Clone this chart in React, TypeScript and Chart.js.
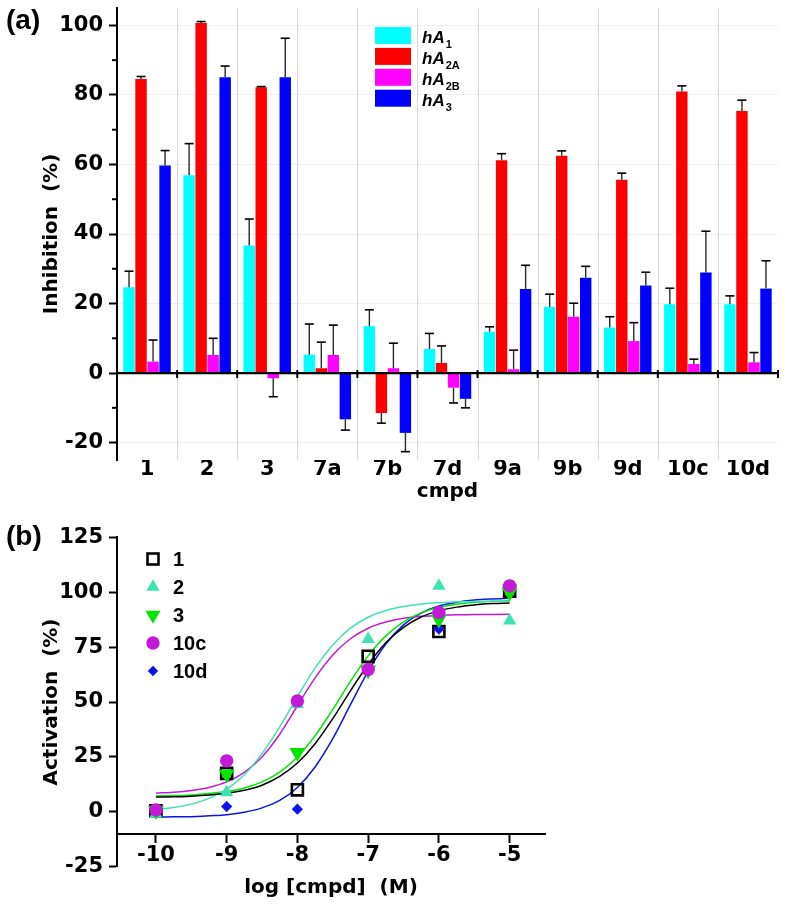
import React, { useEffect, useRef } from 'react';
import { Chart, registerables } from 'chart.js';

Chart.register(...registerables);

// ---------- Panel (a): inhibition bar chart ----------
const compounds = ['1', '2', '3', '7a', '7b', '7d', '9a', '9b', '9d', '10c', '10d'];
const hA1 = [24.7, 56.9, 36.7, 5.3, 13.5, 6.9, 11.9, 19.0, 13.1, 19.8, 19.8];
const hA2A = [84.6, 100.7, 82.2, 1.4, -11.5, 2.9, 61.2, 62.5, 55.6, 81.0, 75.4];
const hA2B = [3.3, 5.2, -1.5, 5.2, 1.4, -4.2, 1.1, 16.2, 9.2, 2.6, 3.1];
const hA3 = [59.7, 85.1, 85.1, -13.3, -17.2, -7.4, 24.2, 27.4, 25.2, 28.9, 24.3];
const hA1Sd = [4.6, 9.1, 7.6, 8.8, 4.7, 4.5, 1.4, 3.7, 3.1, 4.6, 2.4];
const hA2ASd = [0.7, 0.4, 0.2, 7.5, 2.9, 4.9, 1.9, 1.4, 1.9, 1.6, 3.1];
const hA2BSd = [6.2, 4.8, 5.3, 8.6, 7.2, 4.4, 5.5, 3.9, 5.3, 1.4, 2.8];
const hA3Sd = [4.3, 3.2, 11.2, 3.1, 5.4, 2.6, 6.8, 3.3, 3.8, 11.9, 8.0];
const receptorSubs = ['1', '2A', '2B', '3'];
const barColors = ['#00ffff', '#ff0000', '#ff00ff', '#0000ff'];
const yTicksA = [-20, 0, 20, 40, 60, 80, 100];
const yMinorA = [-10, 10, 30, 50, 70, 90];

// ---------- Panel (b): activation dose-response ----------
const logConc = [-10, -9, -8, -7, -6, -5];
const act1 = [0.5, 17.5, 10.0, 70.8, 82.1, 100.5];
const act2 = [-1.0, 8.8, 49.0, 78.6, 102.9, 87.0];
const act3 = [0.5, 17.2, 27.0, 64.5, 87.7, 99.9];
const act10c = [0.8, 23.2, 50.5, 64.8, 90.8, 102.9];
const act10d = [0.0, 2.4, 1.2, 65.7, 83.2, 101.5];
const fitX = [-10, -9.75, -9.5, -9.25, -9, -8.75, -8.5, -8.25, -8, -7.75, -7.5, -7.25, -7, -6.75, -6.5, -6.25, -6, -5.75, -5.5, -5.25, -5];
const fit1 = [6.7, 6.8, 7.1, 7.6, 8.4, 9.8, 12.1, 16.1, 22.2, 31.0, 42.4, 55.1, 67.1, 77.0, 84.0, 88.7, 91.5, 93.2, 94.2, 94.8, 95.1];
const fit2 = [1.1, 2.0, 3.5, 6.1, 10.3, 16.9, 26.5, 38.7, 52.4, 65.4, 76.0, 83.6, 88.6, 91.7, 93.5, 94.6, 95.2, 95.6, 95.8, 95.9, 95.9];
const fit3 = [7.2, 7.4, 7.7, 8.3, 9.2, 10.8, 13.6, 18.1, 25.0, 34.6, 46.6, 59.4, 71.0, 80.1, 86.5, 90.6, 93.1, 94.5, 95.4, 95.9, 96.1];
const fit10c = [8.5, 8.9, 9.7, 11.1, 13.6, 18.0, 25.0, 35.3, 48.3, 61.0, 71.4, 78.8, 83.6, 86.4, 88.1, 89.0, 89.4, 89.7, 89.8, 89.9, 90.0];
const fit10d = [-2.4, -2.3, -2.2, -1.8, -1.3, -0.2, 1.8, 5.2, 11.1, 20.4, 33.3, 48.8, 64.0, 76.4, 85.1, 90.5, 93.7, 95.4, 96.4, 96.9, 97.2];
const seriesNamesB = ['1', '2', '3', '10c', '10d'];
const colorsB = ['#000000', '#3fe3b1', '#00e600', '#c21ad6', '#0a14ea'];
const xTicksB = [-10, -9, -8, -7, -6, -5];
const yTicksB = [-25, 0, 25, 50, 75, 100, 125];

const TICK_FONT = { family: '"DejaVu Sans", sans-serif', size: 21, weight: 'bold' as const, lineHeight: 1 };
const TITLE_FONT = { family: '"DejaVu Sans", sans-serif', size: 20, weight: 'bold' as const, lineHeight: 1.2 };

function toXY(xs: number[], ys: number[]) {
  return xs.map((x, i) => ({ x, y: ys[i] }));
}

function marker(ctx: CanvasRenderingContext2D, shape: string, x: number, y: number, color: string) {
  ctx.save();
  ctx.fillStyle = color;
  ctx.strokeStyle = color;
  ctx.beginPath();
  if (shape === 'square') {
    ctx.lineWidth = 2.6;
    ctx.strokeRect(x - 5.5, y - 5.5, 11, 11);
  } else if (shape === 'up') {
    const r = 7.7;
    ctx.moveTo(x, y - r);
    ctx.lineTo(x + r * 0.866, y + r * 0.5);
    ctx.lineTo(x - r * 0.866, y + r * 0.5);
    ctx.closePath();
    ctx.fill();
  } else if (shape === 'down') {
    const r = 8.7;
    ctx.moveTo(x, y + r);
    ctx.lineTo(x + r * 0.866, y - r * 0.5);
    ctx.lineTo(x - r * 0.866, y - r * 0.5);
    ctx.closePath();
    ctx.fill();
  } else if (shape === 'circle') {
    ctx.arc(x, y, 6.7, 0, Math.PI * 2);
    ctx.fill();
  } else {
    const r = 5.2;
    ctx.moveTo(x - r, y);
    ctx.lineTo(x, y - r);
    ctx.lineTo(x + r, y);
    ctx.lineTo(x, y + r);
    ctx.closePath();
    ctx.fill();
  }
  ctx.restore();
}

export default function App() {
  const refA = useRef<HTMLCanvasElement>(null);
  const refB = useRef<HTMLCanvasElement>(null);

  useEffect(() => {
    const seriesA = [hA1, hA2A, hA2B, hA3];
    const errA = [hA1Sd, hA2ASd, hA2BSd, hA3Sd];

    const pluginA = {
      id: 'panelA',
      beforeDatasetsDraw(chart: any) {
        // vertical separators between categories
        const ctx: CanvasRenderingContext2D = chart.ctx;
        const { top, bottom } = chart.chartArea;
        const xs = chart.scales.x;
        ctx.save();
        ctx.strokeStyle = '#d6d6d6';
        ctx.lineWidth = 1;
        for (let i = 1; i < compounds.length; i++) {
          const bx = Math.round(xs.getPixelForValue(i - 0.5)) + 0.5;
          ctx.beginPath();
          ctx.moveTo(bx, top);
          ctx.lineTo(bx, bottom);
          ctx.stroke();
        }
        ctx.restore();
      },
      afterDatasetsDraw(chart: any) {
        const ctx: CanvasRenderingContext2D = chart.ctx;
        const { left, right } = chart.chartArea;
        const ys = chart.scales.y;
        const xs = chart.scales.x;
        ctx.save();
        // error bars
        errA.forEach((errs, di) => {
          const meta = chart.getDatasetMeta(di);
          const vals = seriesA[di];
          meta.data.forEach((bar: any, j: number) => {
            const v = vals[j];
            const end = v >= 0 ? v + errs[j] : v - errs[j];
            const yv = ys.getPixelForValue(v);
            const ye = ys.getPixelForValue(end);
            ctx.strokeStyle = '#2a2a2a';
            ctx.lineWidth = 1.4;
            ctx.beginPath();
            ctx.moveTo(bar.x, yv);
            ctx.lineTo(bar.x, ye);
            ctx.stroke();
            ctx.strokeStyle = '#000';
            ctx.lineWidth = 1.6;
            ctx.beginPath();
            ctx.moveTo(bar.x - 4.5, ye);
            ctx.lineTo(bar.x + 4.5, ye);
            ctx.stroke();
          });
        });
        // zero line
        const y0 = ys.getPixelForValue(0);
        ctx.strokeStyle = '#000';
        ctx.lineWidth = 2.2;
        ctx.beginPath();
        ctx.moveTo(left, y0);
        ctx.lineTo(right, y0);
        ctx.stroke();
        // category boundary ticks on zero line
        ctx.lineWidth = 2;
        for (let i = 1; i <= compounds.length; i++) {
          const bx = xs.getPixelForValue(i - 0.5);
          ctx.beginPath();
          ctx.moveTo(bx, y0 - 3);
          ctx.lineTo(bx, y0 + 5);
          ctx.stroke();
        }
        // minor y ticks
        yMinorA.forEach((v) => {
          const y = ys.getPixelForValue(v);
          ctx.beginPath();
          ctx.moveTo(left - 5, y);
          ctx.lineTo(left, y);
          ctx.stroke();
        });
        // legend
        receptorSubs.forEach((sub, i) => {
          const top = 27 + i * 20.9;
          ctx.fillStyle = barColors[i];
          ctx.fillRect(375, top, 36, 17);
          ctx.fillStyle = '#000';
          ctx.textBaseline = 'alphabetic';
          ctx.textAlign = 'left';
          ctx.font = 'italic bold 17px "Liberation Sans", Arial, sans-serif';
          ctx.fillText('hA', 422, top + 16);
          const w = ctx.measureText('hA').width;
          ctx.font = 'bold 11px "Liberation Sans", Arial, sans-serif';
          ctx.fillText(sub, 422 + w + 1, top + 21);
        });
        // panel label
        ctx.font = 'bold 28px "Liberation Sans", Arial, sans-serif';
        ctx.textBaseline = 'middle';
        ctx.fillText('(a)', 6, 21);
        ctx.restore();
      },
    };

    const chartA = new Chart(refA.current as HTMLCanvasElement, {
      type: 'bar',
      data: {
        labels: compounds,
        datasets: seriesA.map((d, i) => ({
          label: 'hA' + receptorSubs[i],
          data: d,
          backgroundColor: barColors[i],
          borderWidth: 0,
          categoryPercentage: 0.8,
          barPercentage: 0.95,
        })),
      },
      options: {
        animation: false,
        responsive: false,
        events: [],
        layout: { padding: { top: 8, right: 11, left: 0, bottom: 0 } },
        plugins: { legend: { display: false }, tooltip: { enabled: false } },
        scales: {
          x: {
            grid: { display: false, drawTicks: false, tickLength: 0 },
            border: { display: false },
            ticks: { font: TICK_FONT, color: '#000', padding: -1, maxRotation: 0 },
            title: { display: true, text: 'cmpd', font: TITLE_FONT, color: '#000', padding: { top: 0, bottom: 1 } },
            afterFit: (s: any) => {
              s.height = 45;
              s.paddingLeft = 0;
              s.paddingRight = 0;
            },
          },
          y: {
            min: -25,
            max: 105,
            afterBuildTicks: (s: any) => {
              s.ticks = yTicksA.map((v) => ({ value: v }));
            },
            grid: { color: '#f0f0f0', lineWidth: 1, tickColor: '#000', tickLength: 8, tickWidth: 2 },
            border: { display: true, color: '#000', width: 2 },
            ticks: { font: TICK_FONT, color: '#000', padding: 6 },
            title: { display: true, text: 'Inhibition  (%)', font: TITLE_FONT, color: '#000', padding: { top: 40, bottom: 0 } },
            afterFit: (s: any) => {
              s.width = 117;
              s.paddingTop = 0;
              s.paddingBottom = 0;
            },
          },
        },
      } as any,
      plugins: [pluginA],
    });

    const pointSets = [act1, act2, act3, act10c, act10d];
    const fitSets = [fit1, fit2, fit3, fit10c, fit10d];
    const pointStyles = ['rect', 'triangle', 'triangle', 'circle', 'rectRot'];
    const pointRadii = [7.8, 7.7, 9.2, 6.7, 5.6];
    const pointRot = [0, 0, 180, 0, 0];
    const pointOrder = [14, 13, 11, 10, 12];
    const legendShapes = ['square', 'up', 'down', 'circle', 'diamond'];

    const pluginB = {
      id: 'panelB',
      afterDraw(chart: any) {
        const ctx: CanvasRenderingContext2D = chart.ctx;
        ctx.save();
        seriesNamesB.forEach((name, i) => {
          const y = 54 + i * 28;
          marker(ctx, legendShapes[i], 153, y, colorsB[i]);
          ctx.fillStyle = '#000';
          ctx.font = 'bold 20px "Liberation Sans", Arial, sans-serif';
          ctx.textAlign = 'left';
          ctx.textBaseline = 'middle';
          ctx.fillText(name, 173, y + 1);
        });
        ctx.font = 'bold 28px "Liberation Sans", Arial, sans-serif';
        ctx.textBaseline = 'middle';
        ctx.fillText('(b)', 6, 32);
        ctx.restore();
      },
    };

    const datasetsB: any[] = [];
    fitSets.forEach((f, i) => {
      datasetsB.push({
        label: 'fit ' + seriesNamesB[i],
        data: toXY(fitX, f),
        showLine: true,
        borderColor: colorsB[i],
        borderWidth: 1.5,
        pointRadius: 0,
        cubicInterpolationMode: 'monotone',
        fill: false,
        order: 20 + i,
      });
    });
    pointSets.forEach((p, i) => {
      datasetsB.push({
        label: seriesNamesB[i],
        data: toXY(logConc, p),
        showLine: false,
        pointStyle: pointStyles[i],
        pointRadius: pointRadii[i],
        pointRotation: pointRot[i],
        backgroundColor: i === 0 ? 'rgba(0,0,0,0)' : colorsB[i],
        borderColor: colorsB[i],
        borderWidth: i === 0 ? 2.6 : 0,
        order: pointOrder[i],
      });
    });

    const chartB = new Chart(refB.current as HTMLCanvasElement, {
      type: 'scatter',
      data: { datasets: datasetsB },
      options: {
        animation: false,
        responsive: false,
        events: [],
        layout: { padding: { top: 32.3, right: 244, left: 0, bottom: 47.3 } },
        plugins: { legend: { display: false }, tooltip: { enabled: false } },
        scales: {
          x: {
            type: 'linear',
            min: -10.55,
            max: -4.5,
            position: { y: -10 },
            afterBuildTicks: (s: any) => {
              s.ticks = xTicksB.map((v) => ({ value: v }));
            },
            grid: { drawOnChartArea: false, tickColor: '#000', tickLength: 8, tickWidth: 2 },
            border: { display: true, color: '#000', width: 2 },
            ticks: { font: TICK_FONT, color: '#000', padding: 3, maxRotation: 0 },
            title: { display: true, text: 'log [cmpd]  (M)', font: TITLE_FONT, color: '#000', padding: { top: 0, bottom: 0 } },
            afterFit: (s: any) => {
              s.height = 66;
              s.paddingLeft = 0;
              s.paddingRight = 0;
            },
          },
          y: {
            type: 'linear',
            min: -25,
            max: 125,
            afterBuildTicks: (s: any) => {
              s.ticks = yTicksB.map((v) => ({ value: v }));
            },
            grid: { drawOnChartArea: false, tickColor: '#000', tickLength: 8, tickWidth: 2 },
            border: { display: true, color: '#000', width: 2 },
            ticks: { font: TICK_FONT, color: '#000', padding: 6 },
            title: { display: true, text: 'Activation  (%)', font: TITLE_FONT, color: '#000', padding: { top: 40, bottom: 0 } },
            afterFit: (s: any) => {
              s.width = 117;
              s.paddingTop = 0;
              s.paddingBottom = 0;
            },
          },
        },
      } as any,
      plugins: [pluginB],
    });

    return () => {
      chartA.destroy();
      chartB.destroy();
    };
  }, []);

  return (
    <div style={{ position: 'absolute', left: 0, top: 0, width: 789, height: 914, background: '#fff' }}>
      <canvas ref={refA} width={789} height={505} style={{ position: 'absolute', left: 0, top: 0 }} />
      <canvas ref={refB} width={789} height={409} style={{ position: 'absolute', left: 0, top: 505 }} />
    </div>
  );
}
